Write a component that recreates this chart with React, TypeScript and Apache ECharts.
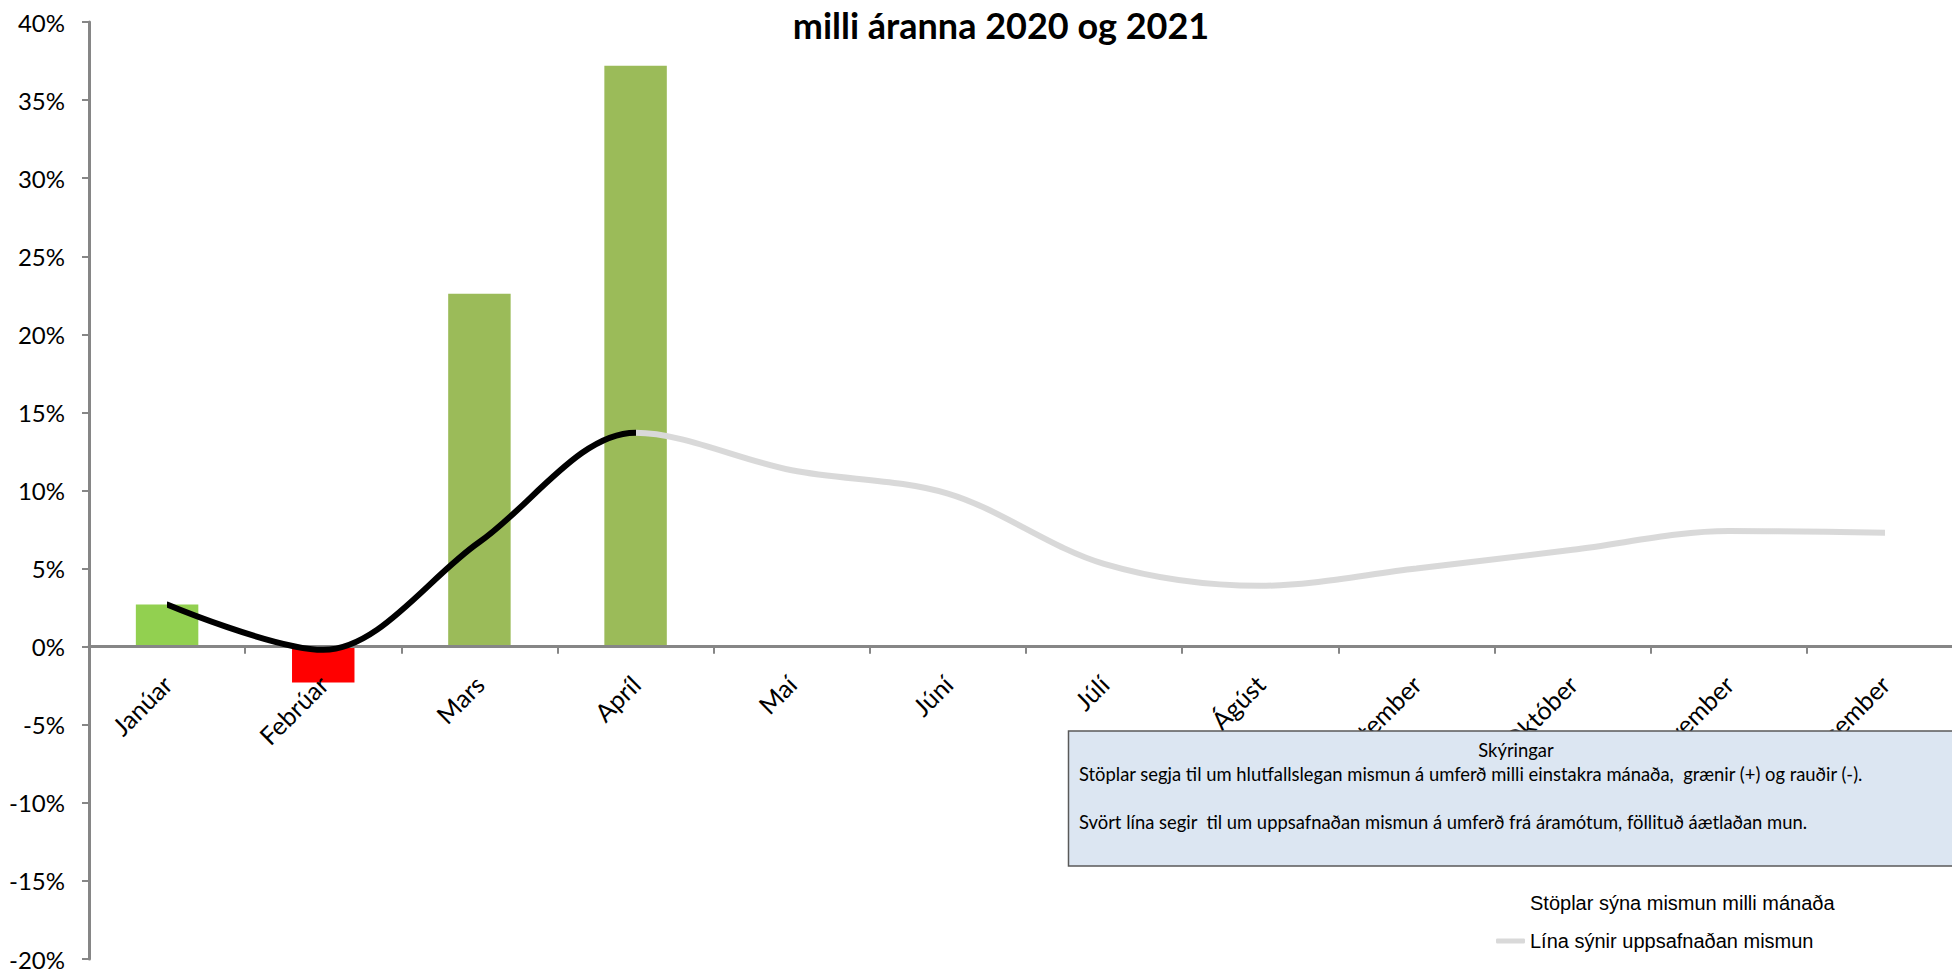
import React, { useEffect, useRef } from 'react';
import * as echarts from 'echarts';

const months = ['Janúar', 'Febrúar', 'Mars', 'Apríl', 'Maí', 'Júní', 'Júlí', 'Ágúst', 'September', 'Október', 'Nóvember', 'Desember'];
const monthlyChange: (number | null)[] = [2.7, -2.3, 22.6, 37.2, null, null, null, null, null, null, null, null];
const barColors = ['#92d050', '#ff0000', '#9bbb59', '#9bbb59'];
const cumulative = [2.7, -0.2, 6.7, 13.7, 11.3, 9.8, 5.3, 3.9, 5.0, 6.2, 7.4, 7.3];
const lastActualIndex = 3;
const yMin = -20;
const yMax = 40;
const yStep = 5;

const titleText = 'milli áranna 2020 og 2021';
const barName = 'Stöplar sýna mismun milli mánaða';
const lineName = 'Lína sýnir uppsafnaðan mismun';
const noteTitle = 'Skýringar';
const noteLine1 = 'Stöplar segja til um hlutfallslegan mismun á umferð milli einstakra mánaða,  grænir (+) og rauðir (-).';
const noteLine2 = 'Svört lína segir  til um uppsafnaðan mismun á umferð frá áramótum, föllituð áætlaðan mun.';

const W = 1952;
const H = 973;
const gridTop = 22;
const gridBottom = 14;

export default function App() {
  const ref = useRef<HTMLDivElement>(null);
  useEffect(() => {
    const chart = echarts.init(ref.current!, null, { renderer: 'svg' });
    const axisColor = '#868686';
    const gridHeight = H - gridTop - gridBottom;
    const zeroOffset = (gridHeight * (0 - yMin)) / (yMax - yMin);
    chart.setOption({
      animation: false,
      backgroundColor: '#ffffff',
      textStyle: { fontFamily: 'Lato' },
      title: {
        text: titleText,
        left: 996,
        top: 2,
        textAlign: 'center',
        textStyle: { fontFamily: 'Lato', fontWeight: 'bold', fontSize: 36, color: '#000' },
      },
      grid: { left: 89, right: -11, top: gridTop, bottom: gridBottom, containLabel: false, outerBoundsMode: 'none' },
      xAxis: {
        type: 'category',
        data: months,
        z: 3,
        offset: -zeroOffset,
        axisLine: { onZero: false, lineStyle: { color: axisColor, width: 3 } },
        axisTick: { show: true, length: 7, lineStyle: { color: axisColor, width: 2 } },
        axisLabel: { rotate: 45, margin: 33, fontSize: 25, color: '#000', fontFamily: 'Lato', interval: 0 },
        splitLine: { show: false },
      },
      yAxis: {
        type: 'value',
        min: yMin,
        max: yMax,
        interval: yStep,
        z: 3,
        axisLine: { show: true, lineStyle: { color: axisColor, width: 3 } },
        axisTick: { show: true, length: 7, lineStyle: { color: axisColor, width: 2 } },
        axisLabel: { formatter: '{value}%', fontSize: 24, margin: 24, color: '#000', fontFamily: 'Lato' },
        splitLine: { show: false },
      },
      visualMap: {
        show: false,
        type: 'piecewise',
        seriesIndex: 1,
        dimension: 0,
        pieces: [
          { gte: 0, lte: lastActualIndex, color: '#000000' },
          { gt: lastActualIndex, lte: months.length - 1, color: '#d9d9d9' },
        ],
      },
      legend: {
        orient: 'vertical',
        left: 1491,
        top: 888,
        itemWidth: 29,
        itemHeight: 5,
        itemGap: 18,
        selectedMode: false,
        textStyle: { fontFamily: 'Liberation Sans', fontSize: 20, color: '#000' },
        data: [
          { name: barName, icon: 'rect', itemStyle: { opacity: 0 } },
          { name: lineName, icon: 'roundRect', itemStyle: { color: '#d9d9d9' } },
        ],
      },
      series: [
        {
          name: barName,
          type: 'bar',
          barWidth: '40%',
          z: 2,
          data: monthlyChange.map((v, i) => (v == null ? null : { value: v, itemStyle: { color: barColors[i] } })),
        },
        {
          name: lineName,
          type: 'line',
          data: cumulative,
          smooth: 0.33,
          showSymbol: false,
          symbol: 'none',
          z: 4,
          lineStyle: { width: 6, cap: 'round' },
        },
      ],
      graphic: [
        {
          type: 'rect',
          z: 100,
          shape: { x: 1068.5, y: 731, width: 895, height: 135 },
          style: { fill: '#dce6f2', stroke: '#595959', lineWidth: 1.5 },
        },
        {
          type: 'text',
          z: 101,
          style: { x: 1516, y: 750, text: noteTitle, textAlign: 'center', textVerticalAlign: 'middle', fontFamily: 'Lato', fontSize: 18.4, fill: '#000' },
        },
        {
          type: 'text',
          z: 101,
          style: { x: 1079, y: 774, text: noteLine1, textAlign: 'left', textVerticalAlign: 'middle', fontFamily: 'Lato', fontSize: 18.4, fill: '#000' },
        },
        {
          type: 'text',
          z: 101,
          style: { x: 1079, y: 822, text: noteLine2, textAlign: 'left', textVerticalAlign: 'middle', fontFamily: 'Lato', fontSize: 18.4, fill: '#000' },
        },
      ],
    });
    return () => chart.dispose();
  }, []);
  return (
    <div
      ref={ref}
      style={{ position: 'absolute', left: 0, top: 0, width: W, height: H, background: '#fff' }}
    />
  );
}
